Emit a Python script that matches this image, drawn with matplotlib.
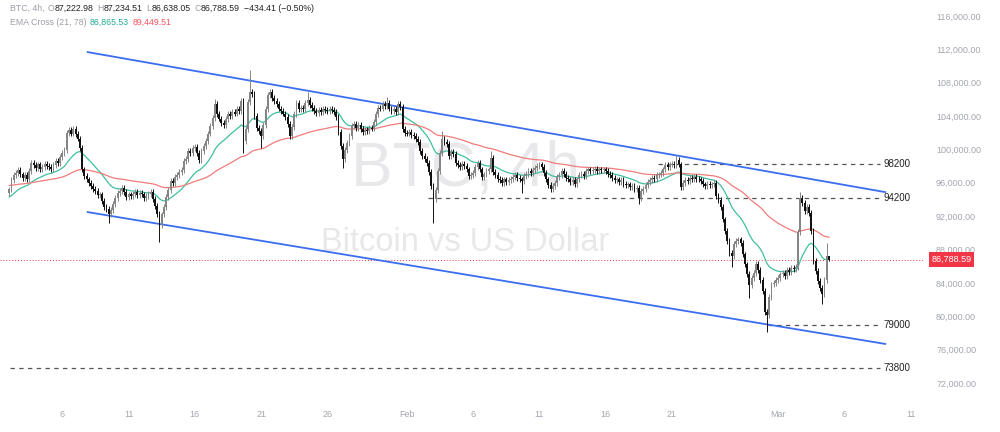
import numpy as np
import pandas as pd
import matplotlib
matplotlib.use("Agg")
import matplotlib.pyplot as plt
import matplotlib.dates as mdates

plt.rcParams['font.family'] = ['Liberation Sans', 'DejaVu Sans']

# 4h closes (thousand USD), one row per day, starting 2025-01-02 00:00
close_k = [
    95.2, 96.3, 96.9, 97.2, 97.5, 97.0,   # Jan 2
    96.6, 96.9, 96.5, 97.4, 98.4, 98.1,   # Jan 3
    97.8, 98.2, 97.7, 97.9, 98.3, 98.0,   # Jan 4
    97.9, 97.6, 98.1, 98.6, 98.4, 99.1,   # Jan 5
    99.6, 99.9, 102.0, 102.3, 101.9, 102.4,  # Jan 6
    101.8, 101.3, 100.2, 97.6, 96.8, 96.4,   # Jan 7
    96.0, 95.6, 95.3, 95.0, 94.5, 94.6,   # Jan 8
    93.8, 93.1, 92.9, 92.3, 92.7, 93.5,   # Jan 9
    94.2, 94.8, 95.0, 95.4, 94.9, 94.3,   # Jan 10
    94.6, 94.4, 94.7, 94.9, 94.5, 94.8,   # Jan 11
    94.6, 94.2, 94.4, 94.7, 94.9, 94.1,   # Jan 12
    93.2, 92.3, 90.9, 92.2, 93.1, 94.3,   # Jan 13
    95.1, 96.2, 96.0, 96.7, 96.9, 97.3,   # Jan 14
    97.5, 98.6, 98.9, 99.8, 99.6, 100.2,  # Jan 15
    100.3, 99.6, 98.7, 99.8, 100.4, 101.0,  # Jan 16
    101.9, 102.8, 103.8, 105.4, 104.2, 103.7,  # Jan 17
    103.2, 102.9, 103.6, 104.3, 104.0, 104.5,  # Jan 18
    104.3, 104.8, 104.6, 105.8, 101.0, 102.4,  # Jan 19
    105.7, 106.9, 106.6, 104.0, 102.6, 102.2,  # Jan 20
    101.6, 102.9, 104.8, 106.5, 106.9, 106.2,  # Jan 21
    105.8, 105.4, 104.9, 104.6, 104.3, 103.9,  # Jan 22
    103.0, 101.6, 102.7, 104.2, 105.6, 104.8,  # Jan 23
    105.0, 104.8, 105.6, 105.9, 105.3, 105.0,  # Jan 24
    104.6, 104.4, 104.7, 104.5, 104.8, 104.7,  # Jan 25
    104.6, 104.8, 104.7, 104.5, 103.9, 102.1,  # Jan 26
    100.4, 98.8, 99.9, 100.8, 101.6, 102.8,  # Jan 27
    103.0, 102.6, 102.9, 102.4, 102.1, 102.3,  # Jan 28
    102.2, 102.6, 102.5, 103.3, 104.2, 105.0,  # Jan 29
    104.9, 105.4, 105.2, 105.6, 104.9, 104.6,  # Jan 30
    104.8, 104.5, 105.4, 105.1, 102.4, 102.0,  # Jan 31
    101.9, 102.1, 101.7, 101.6, 101.2, 100.9,  # Feb 1
    99.8, 99.2, 98.8, 98.4, 97.3, 95.6,   # Feb 2
    94.0, 95.1, 97.4, 99.6, 101.3, 100.9,  # Feb 3
    100.6, 99.2, 99.7, 99.4, 98.4, 98.1,  # Feb 4
    97.9, 98.3, 98.0, 97.6, 96.8, 96.9,   # Feb 5
    97.2, 97.9, 98.4, 97.6, 96.7, 97.0,   # Feb 6
    97.4, 97.6, 99.0, 97.3, 96.9, 96.5,   # Feb 7
    96.3, 96.0, 96.4, 96.1, 96.3, 96.5,   # Feb 8
    96.7, 96.9, 96.6, 96.4, 96.2, 96.8,   # Feb 9
    97.1, 97.4, 97.2, 97.5, 97.8, 98.0,   # Feb 10
    98.2, 97.9, 97.2, 96.4, 95.7, 95.3,   # Feb 11
    95.6, 96.0, 96.7, 96.9, 97.4, 97.1,   # Feb 12
    96.6, 96.4, 96.1, 96.3, 95.9, 96.4,   # Feb 13
    96.9, 97.1, 96.8, 97.4, 97.6, 97.4,   # Feb 14
    97.5, 97.7, 97.4, 97.6, 97.5, 97.6,   # Feb 15
    97.4, 97.1, 96.9, 96.6, 96.3, 96.4,   # Feb 16
    96.1, 96.3, 95.9, 95.7, 95.8, 95.5,   # Feb 17
    95.6, 95.3, 95.4, 94.2, 95.0, 95.3,   # Feb 18
    95.7, 96.1, 96.3, 96.6, 96.5, 96.9,   # Feb 19
    97.0, 97.2, 97.6, 98.1, 97.9, 98.2,   # Feb 20
    98.3, 98.1, 98.7, 98.2, 95.5, 96.0,   # Feb 21
    96.3, 96.2, 96.6, 96.5, 96.7, 96.5,   # Feb 22
    96.4, 96.2, 95.8, 95.6, 95.9, 95.7,   # Feb 23
    95.8, 96.0, 94.4, 93.9, 93.1, 91.6,   # Feb 24
    90.2, 89.0, 87.6, 87.2, 88.7, 89.0,   # Feb 25
    89.2, 88.8, 87.4, 86.2, 85.1, 83.7,   # Feb 26
    84.6, 85.2, 86.3, 85.5, 84.3, 83.0,   # Feb 27
    80.5, 80.1, 82.3, 83.8, 84.0, 84.3,   # Feb 28
    84.6, 85.0, 85.2, 84.8, 85.5, 85.3,   # Mar 1
    85.8, 85.6, 85.9, 90.1, 94.2, 93.6,   # Mar 2
    92.6, 93.1, 92.4, 90.2, 86.6, 85.4,   # Mar 3
    84.2, 83.4, 82.6, 84.3, 87.22298, 86.78859,  # Mar 4
]
first_open_k = 94.8

# notable wick extremes (thousand USD)
high_k = {
    '2025-01-17 12:00': 106.0, '2025-01-20 04:00': 109.5, '2025-01-24 12:00': 106.9,
    '2025-01-30 12:00': 106.3, '2025-02-03 16:00': 102.2, '2025-02-07 08:00': 99.8,
    '2025-02-21 08:00': 99.3, '2025-03-02 16:00': 94.9, '2025-03-04 16:00': 88.8,
    '2025-03-04 20:00': 87.23451,
}
low_k = {
    '2025-01-09 12:00': 91.2, '2025-01-13 08:00': 88.9, '2025-01-19 16:00': 99.6,
    '2025-01-21 00:00': 100.2, '2025-01-27 04:00': 97.8, '2025-02-03 00:00': 91.2,
    '2025-02-09 16:00': 94.8, '2025-02-18 12:00': 93.4, '2025-02-25 12:00': 85.9,
    '2025-02-26 20:00': 82.2, '2025-02-28 04:00': 78.1, '2025-03-04 08:00': 81.5,
    '2025-03-04 20:00': 86.63805,
}
wick_k = 0.35

ema_fast_seed, ema_slow_seed = 94.2, 95.7

# channel and levels
upper_channel = (('2025-01-07 22:00', 111670), ('2025-03-09 02:00', 94880))
lower_channel = (('2025-01-07 22:00', 92480), ('2025-03-09 02:00', 76670))
levels = [98200, 94200, 79000, 73800]
level_start = ['2025-02-19 23:00', '2025-02-02 14:00', '2025-02-28 06:00', '2025-01-02 01:00']
level_end = '2025-03-08 17:00'
last_price = 86788.59

# ---------------------------------------------------------------
times = pd.date_range('2025-01-02 00:00', periods=len(close_k), freq='4h')
close = np.array(close_k) * 1000
opn = np.r_[first_open_k * 1000, close[:-1]]
high = np.maximum(opn, close) + wick_k * 1000
low = np.minimum(opn, close) - wick_k * 1000
for k, v in high_k.items():
    high[times.get_loc(pd.Timestamp(k))] = v * 1000
for k, v in low_k.items():
    low[times.get_loc(pd.Timestamp(k))] = v * 1000

ema_fast = pd.Series(np.r_[ema_fast_seed * 1000, close]).ewm(span=21, adjust=False).mean().values[1:]
ema_slow = pd.Series(np.r_[ema_slow_seed * 1000, close]).ewm(span=78, adjust=False).mean().values[1:]

x = mdates.date2num(times)
up = close >= opn

fig = plt.figure(figsize=(10, 4.32), dpi=100)
ax = fig.add_axes([0.0, 0.079, 0.925, 0.921])

# watermark
ax.text(0.503, 0.575, 'BTC, 4h', transform=ax.transAxes, fontsize=45, color='#e8e8ea',
        ha='center', va='center', zorder=0)
ax.text(0.503, 0.39, 'Bitcoin vs US Dollar', transform=ax.transAxes, fontsize=23.5,
        color='#e8e8ea', ha='center', va='center', zorder=0)

# levels
for lv, st in zip(levels, level_start):
    ax.plot([pd.Timestamp(st), pd.Timestamp(level_end)], [lv, lv], color='#555555',
            lw=0.9, dashes=(3.5, 3.5), zorder=1)
    ax.text(pd.Timestamp(level_end) + pd.Timedelta(hours=6), lv, str(lv), fontsize=7,
            color='#222222', va='center', ha='left')

ax.axhline(last_price, color='#f23645', lw=0.7, ls=(0, (1, 2)), zorder=1)

# channel
for ln in (upper_channel, lower_channel):
    ax.plot([pd.Timestamp(ln[0][0]), pd.Timestamp(ln[1][0])], [ln[0][1], ln[1][1]],
            color='#3a6df0', lw=1.3, zorder=2)

# EMAs
ax.plot(x, ema_fast, color='#3fbf9f', lw=0.9, zorder=3)
ax.plot(x, ema_slow, color='#f07b7b', lw=0.9, zorder=3)

# candles
col = np.where(up, '#858585', '#111111')
ax.vlines(x, low, high, colors=col, lw=0.7, zorder=4)
ax.bar(x, np.maximum(np.abs(close - opn), 80), bottom=np.minimum(opn, close),
       width=0.14, color=col, zorder=5, linewidth=0)

# axes
ax.set_xlim(mdates.date2num(pd.Timestamp('2025-01-01 07:15')),
            mdates.date2num(pd.Timestamp('2025-03-12 02:00')))
ax.set_ylim(70200, 117920)
for s in ax.spines.values():
    s.set_visible(False)
ax.yaxis.tick_right()
yt = np.arange(72000, 116001, 4000)
ax.set_yticks(yt)
ax.set_yticklabels([f'{v:,.2f}' for v in yt])
xt = ['2025-01-06', '2025-01-11', '2025-01-16', '2025-01-21', '2025-01-26', '2025-02-01',
      '2025-02-06', '2025-02-11', '2025-02-16', '2025-02-21', '2025-03-01', '2025-03-06',
      '2025-03-11']
xl = ['6', '11', '16', '21', '26', 'Feb', '6', '11', '16', '21', 'Mar', '6', '11']
ax.set_xticks([mdates.date2num(pd.Timestamp(t)) for t in xt])
ax.set_xticklabels(xl)
ax.tick_params(axis='both', length=0, labelsize=6.5, labelcolor='#a3a6af')
ax.tick_params(axis='y', pad=8)
ax.tick_params(axis='x', pad=9)

ax.text(1.007, last_price, f'{last_price:,.2f}', transform=ax.get_yaxis_transform(),
        fontsize=6.5, color='white', va='center', ha='left',
        bbox=dict(boxstyle='square,pad=0.3', fc='#f23645', ec='none'))

# header
renderer = fig.canvas.get_renderer()


def put_row(y, parts, x0=0.01):
    xx = x0
    for s, c, gap in parts:
        t = fig.text(xx, y, s, fontsize=6.3, color=c, va='center', ha='left')
        w = t.get_window_extent(renderer).width / (fig.get_figwidth() * fig.dpi)
        xx += w + gap


grey, dark = '#9b9ea6', '#222222'
put_row(0.981, [('BTC, 4h,', grey, 0.0035), ('O', grey, 0.0003), ('87,222.98', dark, 0.0035),
                ('H', grey, 0.0003), ('87,234.51', dark, 0.0035), ('L', grey, 0.0003),
                ('86,638.05', dark, 0.0035), ('C', grey, 0.0003), ('86,788.59', dark, 0.0035),
                ('\u2212434.41 (\u22120.50%)', dark, 0)])
put_row(0.948, [('EMA Cross (21, 78)', grey, 0.0035), ('86,865.53', '#22ab94', 0.0035),
                ('89,449.51', '#f7525f', 0)])

fig.savefig('out.png', dpi=100)
